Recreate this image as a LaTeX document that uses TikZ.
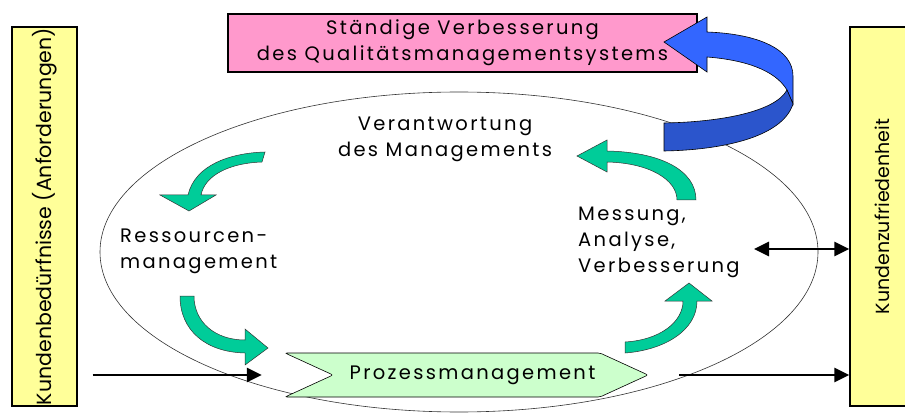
\documentclass[tikz,border=0pt]{standalone}
\usepackage{fontspec}
\usepackage{graphicx}
\setmainfont{Poppins}
\newfontfamily\spaced[LetterSpace=12]{Poppins}
\usetikzlibrary{arrows.meta}

\definecolor{kgelb}{HTML}{FFFF99}
\definecolor{rosa}{HTML}{FF99CC}
\definecolor{kgruen}{HTML}{00CC99}
\definecolor{hgruen}{HTML}{CCFFCC}
\definecolor{blauhell}{HTML}{3366FF}
\definecolor{blaudunkel}{HTML}{2B55CC}

\begin{document}
\begin{tikzpicture}[x=1pt, y=-1pt,
		box/.style={draw, line width=1.2pt, inner sep=0pt},
		kunde/.style={box, fill=kgelb, minimum width=65pt, minimum height=379pt},
		pfeil/.style={line width=2.8pt, -{Triangle[length=15pt,width=14pt]}},
		kreis/.style={fill=kgruen, draw=black!80, line width=0.5pt},
		lbl/.style={font=\spaced\fontsize{19.5}{26}\selectfont, inner sep=0pt}]
		\useasboundingbox (0,0) rectangle (905,414);
		\clip (0,0) rectangle (905,414);
		\draw[line width=0.6pt, black!80] (459,252) ellipse [x radius=359, y radius=160];
		\node[kunde] (kb) at (44.5,216.5) {\rotatebox{90}{\fontsize{20.5}{20}\selectfont Kundenbedürfnisse (Anforderungen)}};
		\node[kunde] (kz) at (882.5,216.5) {\rotatebox{90}{\fontsize{19}{20}\selectfont Kundenzufriedenheit}};
		\node[box, fill=rosa, minimum width=469pt, minimum height=58pt, align=center, lbl] (qms) at (462.5,43)
		{Ständige Verbesserung\\des Qualitätsmanagementsystems};
		\draw[fill=hgruen, line width=0.6pt, rounded corners=2pt] (285,353) -- (600,353) -- (648,375) -- (600,397)
		-- (285,397) -- (333,375) -- cycle;
		\node[lbl, minimum width=363pt, minimum height=44pt] (proc) at (466.5,375) {\hspace{12pt}Prozessmanagement};
		\node[lbl, align=center] (vm) at (445,139) {Verantwortung\\des Managements};
		\node[lbl, align=left, anchor=west] (rm) at (120,251) {Ressourcen-\\management};
		\node[lbl, align=left, anchor=west] (mav) at (578,242) {Messung,\\Analyse,\\Verbesserung};
		\coordinate (mave) at (754,249);
		% gruene Kreispfeile
		\draw[kreis] (265,152) .. controls (230,153) and (195,165) .. (188,195) -- (160,195) -- (189,211)
		-- (216,195) -- (201,195) .. controls (205,175) and (230,163) .. (262,162) -- cycle;
		\draw[kreis] (180,296) .. controls (180,330) and (205,352) .. (245,353) -- (245,365) -- (268,348)
		-- (245,329) -- (245,340) .. controls (215,340) and (194,322) .. (194,296) -- cycle;
		\draw[kreis] (625,353) .. controls (665,350) and (697,330) .. (697,301) -- (712,301) -- (689,283)
		-- (665,301) -- (683,301) .. controls (683,322) and (660,340) .. (625,342) -- cycle;
		\draw[kreis] (696,200) .. controls (696,170) and (660,152) .. (607,151) -- (607,140) -- (577,156)
		-- (607,172) -- (607,162) .. controls (650,163) and (677,180) .. (677,200) -- cycle;
		% blauer Pfeil
		\draw[fill=blauhell, line width=0.6pt] (707,57) -- (707,72) -- (664,42) -- (707,17) -- (707,32)
		.. controls (760,34) and (793,50) .. (793,76) -- (793,104) -- (787,90)
		.. controls (775,70) and (745,60) .. (707,57) -- cycle;
		\draw[fill=blaudunkel, line width=0.6pt] (787,90) -- (793,104) .. controls (782,138) and (720,150) .. (664,151)
		-- (664,123) .. controls (720,122) and (775,112) .. (787,90) -- cycle;
		\draw[pfeil] (kb.east |- proc.west) [shorten <=15pt, shorten >=23pt] -- (proc.west);
		\draw[pfeil] (proc.east) [shorten <=31pt] -- (kz.west |- proc.east);
		\draw[pfeil, {Triangle[length=15pt,width=14pt]}-{Triangle[length=15pt,width=14pt]}] (mave) -- (kz.west |- mave);
		\end{tikzpicture}
\end{document}
